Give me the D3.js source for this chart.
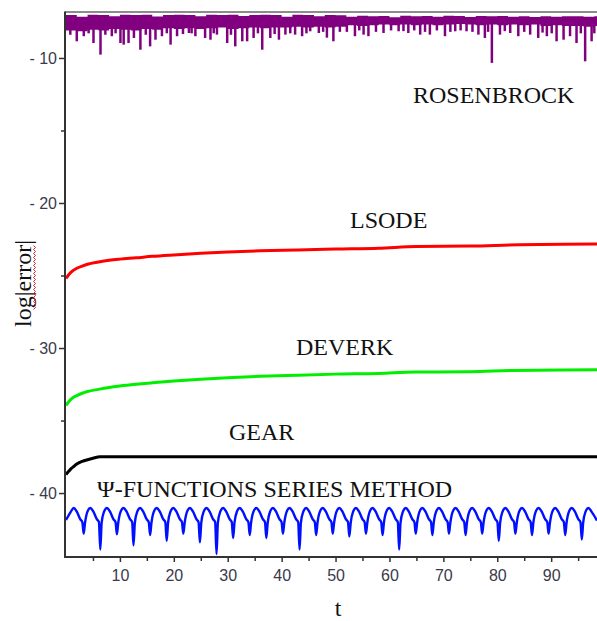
<!DOCTYPE html>
<html><head><meta charset="utf-8">
<script src="https://cdn.jsdelivr.net/npm/d3@7"></script>
<style>body{margin:0;background:#fff;overflow:hidden}</style>
</head><body><svg id="c" width="597" height="621"></svg>
<script>
// ---------- data ----------
const xMajorTicks = [10, 20, 30, 40, 50, 60, 70, 80, 90];
const xMinorTicks = [5, 15, 25, 35, 45, 55, 65, 75, 85, 95];
const yMajorTicks = [-10, -20, -30, -40];
const yMinorTicks = [-15, -25, -35];

// ROSENBROCK: noisy band (top / bottom edge every 2 units of t) + downward spikes
const rosenT   = [0,2,4,6,8,10,12,14,16,18,20,22,24,26,28,30,32,34,36,38,40,42,44,46,48,50,52,54,56,58,60,62,64,66,68,70,72,74,76,78,80,82,84,86,88,90,92,94,96,98,98.5];
const rosenTop = [-7.03,-7.15,-7.02,-7.03,-7.12,-7.02,-7.03,-7.02,-7.14,-7.03,-7.02,-7.03,-7.12,-7.02,-7.03,-7.02,-7.1,-7.03,-7.02,-7.03,-7.15,-7.02,-7.03,-7.12,-7.03,-7.05,-7.15,-7.08,-7.12,-7.1,-7.2,-7.08,-7.12,-7.1,-7.15,-7.08,-7.1,-7.18,-7.1,-7.12,-7.1,-7.15,-7.12,-7.18,-7.12,-7.15,-7.12,-7.12,-7.15,-7.12,-7.12];
const rosenLow = [-8.1,-8.15,-8.05,-8.1,-8.0,-8.05,-8.1,-8.0,-8.05,-7.95,-8.0,-7.95,-8.0,-7.95,-7.9,-8.0,-7.95,-7.9,-7.95,-7.9,-7.9,-7.85,-7.9,-7.85,-7.9,-7.85,-7.75,-7.8,-7.75,-7.7,-7.75,-7.7,-7.75,-7.7,-7.75,-7.7,-7.65,-7.7,-7.75,-7.7,-7.75,-7.7,-7.75,-7.7,-7.8,-7.75,-7.8,-7.8,-7.85,-7.8,-7.8];
const rosenSpikeT = [0.8,2.0,3.3,4.2,5.1,6.4,7.3,8.5,9.2,10.1,10.7,11.6,12.6,13.8,14.8,15.6,16.6,17.8,18.7,19.4,20.6,21.7,22.8,23.3,24.0,25.8,26.8,27.4,28.0,29.9,30.6,31.4,32.7,33.6,34.8,35.6,36.4,37.9,38.7,39.5,40.7,41.6,42.5,43.8,44.6,45.3,46.9,47.7,48.4,49.6,50.8,52.1,53.6,54.4,55.2,56.1,57.5,58.9,60.3,61.7,62.6,63.5,64.6,65.7,66.6,67.5,68.8,70.3,71.3,72.2,73.2,74.3,75.4,76.5,77.7,78.3,79.0,80.5,81.4,82.4,83.9,85.0,86.1,87.6,88.4,89.2,90.1,91.0,92.3,93.5,94.7,95.5,96.3,97.5,98.0];
const rosenSpikeV = [-8.4,-8.85,-8.5,-8.3,-8.97,-9.77,-8.4,-8.5,-8.3,-8.97,-9.08,-8.97,-8.62,-9.43,-8.4,-9.2,-8.74,-8.5,-8.3,-9.08,-8.5,-8.35,-8.28,-8.3,-8.5,-8.62,-8.74,-8.3,-8.39,-8.97,-8.4,-9.2,-8.85,-8.85,-8.62,-8.3,-9.43,-8.62,-8.35,-8.74,-8.39,-8.3,-8.39,-8.5,-8.3,-8.16,-8.28,-8.2,-8.6,-8.85,-8.2,-8.2,-8.5,-8.1,-8.39,-8.5,-8.2,-8.28,-8.1,-8.16,-8.15,-8.28,-8.1,-8.39,-8.2,-8.39,-8.1,-8.5,-8.2,-8.16,-8.1,-8.16,-8.2,-8.39,-8.62,-8.2,-10.34,-8.39,-8.15,-8.28,-8.5,-8.2,-8.39,-8.62,-8.25,-8.5,-8.3,-8.85,-8.74,-8.5,-8.97,-8.3,-10.23,-8.85,-8.3];

// LSODE
const lsodeT = [0,0.5,1,2,3,4,6,8,10,13,16,20,25,30,36,43,50,58,65,75,84,92,98.5];
const lsodeV = [-25.2,-24.95,-24.75,-24.5,-24.35,-24.22,-24.07,-23.95,-23.87,-23.78,-23.68,-23.58,-23.47,-23.38,-23.3,-23.24,-23.18,-23.12,-23.0,-22.97,-22.88,-22.85,-22.83];
// DEVERK
const deverkT = [0,0.5,1,2,3,4,6,8,10,13,16,20,25,30,36,43,50,58,64.6,75,83,92,98.5];
const deverkV = [-33.95,-33.7,-33.5,-33.28,-33.12,-33.0,-32.85,-32.72,-32.62,-32.5,-32.4,-32.28,-32.15,-32.05,-31.95,-31.87,-31.8,-31.75,-31.66,-31.63,-31.55,-31.52,-31.5];
// GEAR
const gearT = [0,0.5,1,1.5,2,3,4,5,6.3,20,50,98.5];
const gearV = [-38.72,-38.5,-38.3,-38.15,-38.0,-37.82,-37.7,-37.6,-37.5,-37.5,-37.5,-37.5];

// Psi-functions series method (oscillating)
const psiT = [0,0.4,
 0.88,1.43,2.03,2.63,3.03,3.28,3.53,
 3.96,4.51,5.11,5.71,6.11,6.36,6.61,
 7.04,7.59,8.19,8.79,9.19,9.44,9.69,
 10.12,10.67,11.27,11.87,12.27,12.52,12.77,
 13.2,13.75,14.35,14.95,15.35,15.6,15.85,
 16.28,16.83,17.43,18.03,18.43,18.68,18.93,
 19.36,19.91,20.51,21.11,21.51,21.76,22.01,
 22.44,22.99,23.59,24.19,24.59,24.84,25.09,
 25.52,26.07,26.67,27.27,27.67,27.92,28.17,
 28.6,29.15,29.75,30.35,30.75,31.0,31.25,
 31.68,32.23,32.83,33.43,33.83,34.08,34.33,
 34.76,35.31,35.91,36.51,36.91,37.16,37.41,
 37.84,38.39,38.99,39.59,39.99,40.24,40.49,
 40.92,41.47,42.07,42.67,43.07,43.32,43.57,
 44.0,44.55,45.15,45.75,46.15,46.4,46.65,
 47.08,47.63,48.23,48.83,49.23,49.48,49.73,
 50.16,50.71,51.31,51.91,52.31,52.56,52.81,
 53.24,53.79,54.39,54.99,55.39,55.64,55.89,
 56.32,56.87,57.47,58.07,58.47,58.72,58.97,
 59.4,59.95,60.55,61.15,61.55,61.8,62.05,
 62.48,63.03,63.63,64.23,64.63,64.88,65.13,
 65.56,66.11,66.71,67.31,67.71,67.96,68.21,
 68.64,69.19,69.79,70.39,70.79,71.04,71.29,
 71.72,72.27,72.87,73.47,73.87,74.12,74.37,
 74.8,75.35,75.95,76.55,76.95,77.2,77.45,
 77.88,78.43,79.03,79.63,80.03,80.28,80.53,
 80.96,81.51,82.11,82.71,83.11,83.36,83.61,
 84.04,84.59,85.19,85.79,86.19,86.44,86.69,
 87.12,87.67,88.27,88.87,89.27,89.52,89.77,
 90.2,90.75,91.35,91.95,92.35,92.6,92.85,
 93.28,93.83,94.43,95.03,95.43,95.68,95.93,
 96.36,96.91,97.51,98.5];
const psiV = [-41.86,-41.6,
 -41.3,-41.03,-41.3,-41.8,-42.0,-42.8,-42.05,
 -41.3,-41.03,-41.3,-41.8,-42.0,-43.9,-42.05,
 -41.3,-41.03,-41.3,-41.8,-42.0,-42.85,-42.05,
 -41.3,-41.03,-41.3,-41.8,-42.0,-43.6,-42.05,
 -41.3,-41.03,-41.3,-41.8,-42.0,-42.9,-42.05,
 -41.3,-41.03,-41.3,-41.8,-42.0,-43.3,-42.05,
 -41.3,-41.03,-41.3,-41.8,-42.0,-42.8,-42.05,
 -41.3,-41.03,-41.3,-41.8,-42.0,-43.4,-42.05,
 -41.3,-41.03,-41.3,-41.8,-42.0,-44.2,-42.05,
 -41.3,-41.03,-41.3,-41.8,-42.0,-43.1,-42.05,
 -41.3,-41.03,-41.3,-41.8,-42.0,-42.9,-42.05,
 -41.3,-41.03,-41.3,-41.8,-42.0,-43.1,-42.05,
 -41.3,-41.03,-41.3,-41.8,-42.0,-42.8,-42.05,
 -41.3,-41.03,-41.3,-41.8,-42.0,-43.9,-42.05,
 -41.3,-41.03,-41.3,-41.8,-42.0,-42.9,-42.05,
 -41.3,-41.03,-41.3,-41.8,-42.0,-42.8,-42.05,
 -41.3,-41.03,-41.3,-41.8,-42.0,-43.0,-42.05,
 -41.3,-41.03,-41.3,-41.8,-42.0,-42.8,-42.05,
 -41.3,-41.03,-41.3,-41.8,-42.0,-42.9,-42.05,
 -41.3,-41.03,-41.3,-41.8,-42.0,-43.9,-42.05,
 -41.3,-41.03,-41.3,-41.8,-42.0,-42.8,-42.05,
 -41.3,-41.03,-41.3,-41.8,-42.0,-42.9,-42.05,
 -41.3,-41.03,-41.3,-41.8,-42.0,-42.8,-42.05,
 -41.3,-41.03,-41.3,-41.8,-42.0,-42.9,-42.05,
 -41.3,-41.03,-41.3,-41.8,-42.0,-42.8,-42.05,
 -41.3,-41.03,-41.3,-41.8,-42.0,-43.3,-42.05,
 -41.3,-41.03,-41.3,-41.8,-42.0,-42.8,-42.05,
 -41.3,-41.03,-41.3,-41.8,-42.0,-42.9,-42.05,
 -41.3,-41.03,-41.3,-41.8,-42.0,-42.8,-42.05,
 -41.3,-41.03,-41.3,-41.8,-42.0,-42.9,-42.05,
 -41.3,-41.03,-41.3,-41.8,-42.0,-43.2,-42.05,
 -41.3,-41.03,-41.3,-41.9];

const seriesLabels = ["ROSENBROCK", "LSODE", "DEVERK", "GEAR", "\u03A8-FUNCTIONS SERIES METHOD"];
const xTitle = "t";
const yTitle = "log|error|";

// ---------- layout ----------
const svg = d3.select("#c");
const pLeft = 65, pRight = 597, pTop = 12, pBottom = 557;
const x = d3.scaleLinear().domain([0, 98.5]).range([66, 597]);
const y = d3.scaleLinear().domain([-44.41, -6.83]).range([pBottom, pTop]);

svg.append("defs").append("clipPath").attr("id", "clip")
  .append("rect").attr("x", pLeft).attr("y", pTop).attr("width", pRight - pLeft).attr("height", pBottom - pTop);

const plot = svg.append("g").attr("clip-path", "url(#clip)");

// ROSENBROCK band
const zip = (ts, vs) => ts.map((t, i) => [t, vs[i]]);
const band = rosenT.map((t, i) => ({t, hi: rosenTop[i], lo: rosenLow[i]}));
plot.append("path").datum(band)
  .attr("fill", "#800080")
  .attr("d", d3.area().x(d => x(d.t)).y0(d => y(d.lo)).y1(d => y(d.hi)).curve(d3.curveStepAfter));
const vline = d3.line().x(d => x(d[0])).y(d => y(d[1]));
plot.append("g").selectAll("path").data(rosenSpikeT.map((t, i) => [[t, -7.5], [t, rosenSpikeV[i]]]))
  .join("path").attr("d", vline).attr("stroke", "#800080").attr("stroke-width", 2.5).attr("fill", "none");

const smooth = d3.line().x(d => x(d[0])).y(d => y(d[1])).curve(d3.curveMonotoneX);
plot.append("path").datum(zip(lsodeT, lsodeV)).attr("d", smooth).attr("fill", "none").attr("stroke", "#ff0000").attr("stroke-width", 3);
plot.append("path").datum(zip(deverkT, deverkV)).attr("d", smooth).attr("fill", "none").attr("stroke", "#00ee00").attr("stroke-width", 3);
plot.append("path").datum(zip(gearT, gearV)).attr("d", smooth).attr("fill", "none").attr("stroke", "#000000").attr("stroke-width", 3);
plot.append("path").datum(zip(psiT, psiV)).attr("d", smooth).attr("fill", "none").attr("stroke", "#0010ff").attr("stroke-width", 2.4).attr("stroke-linejoin", "round");

// frame / axes
svg.append("line").attr("x1", pLeft).attr("x2", pRight).attr("y1", pTop).attr("y2", pTop).attr("stroke", "#666").attr("stroke-width", 1.5);
svg.append("line").attr("x1", pLeft).attr("x2", pLeft).attr("y1", pTop - 0.5).attr("y2", pBottom + 1).attr("stroke", "#333").attr("stroke-width", 2);
svg.append("line").attr("x1", pLeft - 1).attr("x2", pRight).attr("y1", pBottom).attr("y2", pBottom).attr("stroke", "#333").attr("stroke-width", 2);

const tickColor = "#333";
const labelColor = "#3a3a4a";
const gx = svg.append("g").attr("transform", `translate(0,${pBottom})`)
  .call(d3.axisBottom(x).tickValues(xMajorTicks).tickSize(5).tickPadding(8).tickFormat(d3.format("d")));
const gxm = svg.append("g").attr("transform", `translate(0,${pBottom})`)
  .call(d3.axisBottom(x).tickValues(xMinorTicks).tickSize(4).tickFormat(""));
const gy = svg.append("g").attr("transform", `translate(${pLeft},0)`)
  .call(d3.axisLeft(y).tickValues(yMajorTicks).tickSize(6).tickPadding(2).tickFormat(d => "- " + Math.abs(d)));
const gym = svg.append("g").attr("transform", `translate(${pLeft},0)`)
  .call(d3.axisLeft(y).tickValues(yMinorTicks).tickSize(4).tickFormat(""));
[gx, gxm, gy, gym].forEach(g => {
  g.select(".domain").remove();
  g.selectAll(".tick line").attr("stroke", tickColor).attr("stroke-width", 1.5);
  g.selectAll("text").attr("fill", labelColor).style("font-family", "'Liberation Sans', Arial, sans-serif").style("font-size", "16px");
});

// series labels
const serif = "'Liberation Serif', 'Times New Roman', serif";
const labelPos = [[413, 103], [350, 228], [296, 355], [229, 440], [97, 497]];
svg.append("g").selectAll("text").data(seriesLabels).join("text")
  .attr("x", (d, i) => labelPos[i][0]).attr("y", (d, i) => labelPos[i][1])
  .style("font-family", serif).style("font-size", "24px").attr("fill", "#111")
  .text(d => d);

// axis titles
svg.append("text").attr("x", 338).attr("y", 616).attr("text-anchor", "middle")
  .style("font-family", serif).style("font-size", "24px").attr("fill", "#111").text(xTitle);
const yt = svg.append("g").attr("transform", "translate(31,283.5) rotate(-90)");
yt.append("text").attr("text-anchor", "middle")
  .style("font-family", serif).style("font-size", "24px").attr("fill", "#111").text(yTitle);
// spell-check squiggle under "error|"
const sq = [];
for (let i = 0; i <= 32; i++) sq.push([-26 + i * 2, (i % 2 ? 4.5 : 2.5)]);
yt.append("path").attr("d", d3.line()(sq)).attr("fill", "none").attr("stroke", "#e02020").attr("stroke-width", 1);
</script>
</body></html>
